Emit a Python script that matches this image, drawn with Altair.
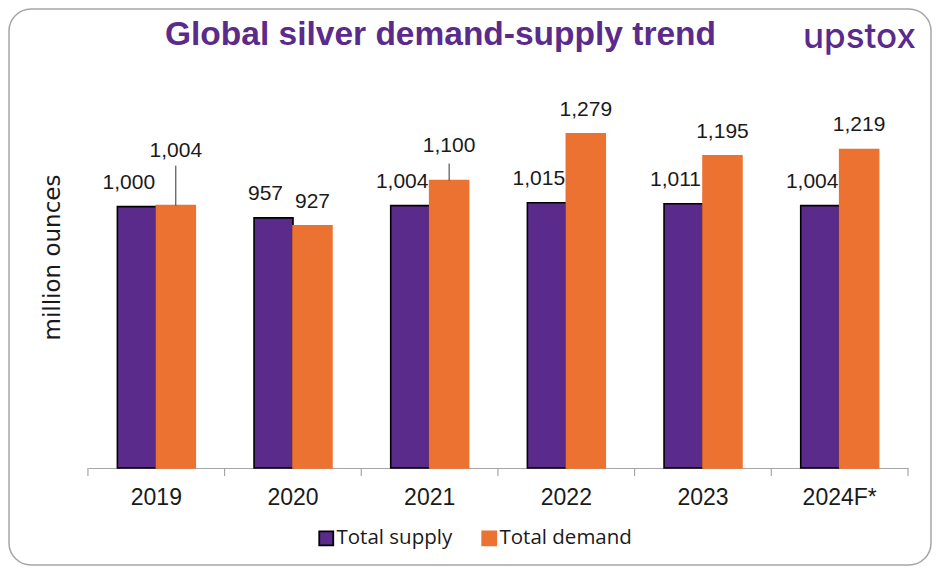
import altair as alt
import pandas as pd

years = ["2019", "2020", "2021", "2022", "2023", "2024F*"]
supply = [1000, 957, 1004, 1015, 1011, 1004]
demand = [1004, 927, 1100, 1279, 1195, 1219]
series_names = ["Total supply", "Total demand"]
leader_years = ["2019", "2021"]

PURPLE = "#5B2B8C"
ORANGE = "#EC7232"
AXIS_GREY = "#A6A6A6"

rows = []
for y, s, d in zip(years, supply, demand):
    rows.append({"year": y, "series": series_names[0], "value": s})
    rows.append({"year": y, "series": series_names[1], "value": d})
df = pd.DataFrame(rows)

base = alt.Chart(df)

PAD_INNER = 0.43
xscale = alt.Scale(paddingInner=PAD_INNER, paddingOuter=PAD_INNER / 2)
xaxis = alt.Axis(labelAngle=0, ticks=False, domainColor=AXIS_GREY,
                 labelFontSize=23, labelFont="Liberation Sans", labelColor="#1a1a1a",
                 labelPadding=18, grid=False)
x = alt.X("year:N", sort=years, title=None, scale=xscale, axis=xaxis)
y = alt.Y("value:Q", scale=alt.Scale(domain=[0, 1500]), title="million ounces",
          axis=alt.Axis(labels=False, ticks=False, domain=False, grid=False,
                        titleFontSize=23, titleFont="DejaVu Sans", titleFontWeight="normal",
                        titleColor="#1a1a1a", titleX=-36, titleY=181, titleAngle=270,
                        titleAlign="center", titleBaseline="middle"))
xo = alt.XOffset("series:N", sort=series_names)

bars = base.mark_bar(strokeWidth=1.6).encode(
    x=x, xOffset=xo, y=y,
    fill=alt.Fill("series:N", sort=series_names,
                  scale=alt.Scale(domain=series_names, range=[PURPLE, ORANGE]),
                  legend=alt.Legend(title=None, orient="none", legendX=228, legendY=452,
                                    direction="horizontal", symbolType="square",
                                    symbolSize=196, symbolStrokeWidth=1.8,
                                    labelFontSize=20.5, labelFont="Open Sans",
                                    labelColor="#1a1a1a", columnPadding=25,
                                    labelOffset=0)),
    stroke=alt.Stroke("series:N", sort=series_names,
                      scale=alt.Scale(domain=series_names, range=["#000000", ORANGE])),
)

# category-boundary ticks on the x axis (half a gap before each band start)
half_gap = 137 * PAD_INNER / 2
ticks = base.transform_filter(f"datum.series == '{series_names[0]}'").mark_rule(
    color=AXIS_GREY, strokeWidth=1.2, xOffset=-half_gap).encode(
    x=alt.X("year:N", sort=years, title=None, scale=xscale, axis=xaxis, bandPosition=0),
    y=alt.value(392), y2=alt.value(400))
end_tick = alt.Chart(pd.DataFrame({"k": [0]})).mark_rule(color=AXIS_GREY, strokeWidth=1.2).encode(
    x=alt.value(820), y=alt.value(392), y2=alt.value(400))

fmt = ",.0f"
is_sup = f"datum.series == '{series_names[0]}'"
is_dem = f"datum.series == '{series_names[1]}'"
not_leader = " && ".join(f"datum.year != '{yy}'" for yy in leader_years)

sup_labels = base.transform_filter(is_sup).mark_text(
    dy=-24, dx=-8, baseline="middle", fontSize=21, font="Liberation Sans", color="#1a1a1a"
).encode(x=x, xOffset=xo, y=y, text=alt.Text("value:Q", format=fmt))

dem_normal = base.transform_filter(f"{is_dem} && {not_leader}").mark_text(
    dy=-24, baseline="middle", fontSize=21, font="Liberation Sans", color="#1a1a1a"
).encode(x=x, xOffset=xo, y=y, text=alt.Text("value:Q", format=fmt))

dem_2019 = base.transform_filter(f"{is_dem} && datum.year == '{leader_years[0]}'")
dem_2021 = base.transform_filter(f"{is_dem} && datum.year == '{leader_years[1]}'")
lab19 = dem_2019.mark_text(dy=-55, baseline="middle", fontSize=21, font="Liberation Sans",
                           color="#1a1a1a").encode(x=x, xOffset=xo, y=y,
                                                   text=alt.Text("value:Q", format=fmt))
lab21 = dem_2021.mark_text(dy=-35, baseline="middle", fontSize=21, font="Liberation Sans",
                           color="#1a1a1a").encode(x=x, xOffset=xo, y=y,
                                                   text=alt.Text("value:Q", format=fmt))
rule19 = dem_2019.mark_rule(color="#333333", strokeWidth=1, y2Offset=-40).encode(
    x=x, xOffset=xo, y=y, y2="value:Q")
rule21 = dem_2021.mark_rule(color="#333333", strokeWidth=1, y2Offset=-17).encode(
    x=x, xOffset=xo, y=y, y2="value:Q")

deco = alt.Chart(pd.DataFrame({"k": [0]}))
frame = deco.mark_rect(fill=None, stroke=AXIS_GREY, strokeWidth=1.5, cornerRadius=22).encode(
    x=alt.value(-79), x2=alt.value(843), y=alt.value(-67), y2=alt.value(489))
title = deco.mark_text(text="Global silver demand-supply trend", fontSize=33.5, fontWeight="bold",
                       font="Liberation Sans", color=PURPLE, align="left", baseline="middle"
                       ).encode(x=alt.value(77), y=alt.value(-41))
logo = deco.mark_text(text="upstox", fontSize=35, fontWeight=500, font="Inter",
                      color=PURPLE, align="left", baseline="alphabetic"
                      ).encode(x=alt.value(715), y=alt.value(-28))

chart = alt.layer(frame, bars, ticks, end_tick, sup_labels, dem_normal, lab19, lab21,
                  rule19, rule21, title, logo
).properties(
    width=820, height=392,
    autosize=alt.AutoSizeParams(type="none"),
    padding={"left": 80, "top": 68, "right": 24, "bottom": 98},
).configure_view(stroke=None)

chart.save("out.html", embed_options={"renderer": "svg", "actions": False})
